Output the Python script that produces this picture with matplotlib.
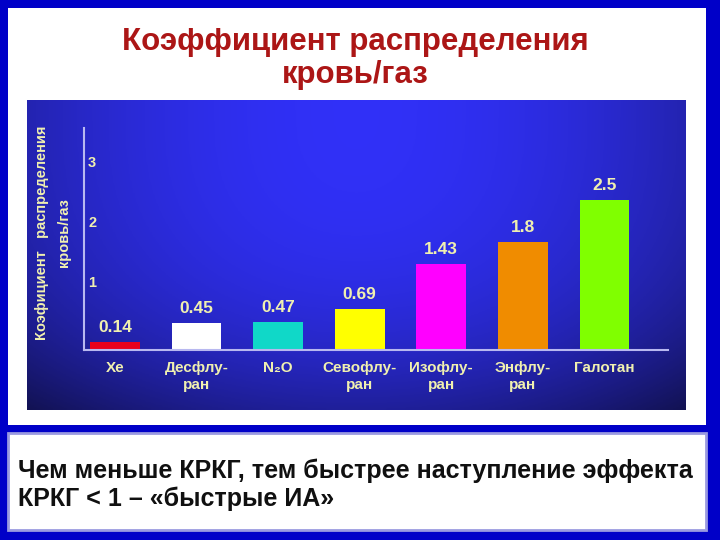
import numpy as np
import matplotlib.pyplot as plt
from matplotlib.patches import Rectangle

# data
drugs = ["Xe", "Десфлу-\nран", "N₂O", "Севофлу-\nран", "Изофлу-\nран", "Энфлу-\nран", "Галотан"]
values = [0.14, 0.45, 0.47, 0.69, 1.43, 1.8, 2.5]
value_labels = ["0.14", "0.45", "0.47", "0.69", "1.43", "1.8", "2.5"]
bar_colors = ["#e8001c", "#ffffff", "#10d8c8", "#ffff00", "#ff00ff", "#f08c00", "#80ff00"]
y_ticks = [1, 2, 3]

W, H = 720, 540


def box(x0, y0, x1, y1):
    # pixel box (top-left origin) -> figure coords
    return [x0 / W, 1 - y1 / H, (x1 - x0) / W, (y1 - y0) / H]


plt.rcParams['font.family'] = ['Liberation Sans', 'DejaVu Sans']

fig = plt.figure(figsize=(7.2, 5.4), dpi=100)
fig.patch.set_facecolor('#0000c8')

# white slide panel
fig.add_artist(Rectangle((8 / W, 1 - 425 / H), 698 / W, 417 / H, zorder=-5,
                         transform=fig.transFigure, facecolor='white', edgecolor='none'))

fig.text(355 / W, 1 - 42 / H, "Коэффициент распределения", ha='center', va='center',
         fontsize=22.5, fontweight='bold', color='#ac1616')
fig.text(355 / W, 1 - 75 / H, "кровь/газ", ha='center', va='center',
         fontsize=22.5, fontweight='bold', color='#ac1616')

# gradient chart background
bg = fig.add_axes(box(27, 100, 686, 410))
gx = np.linspace(-1, 1, 200)
gy = np.linspace(0, 1, 120)
X, Y = np.meshgrid(gx, gy)
shade = 1 - 0.3 * X ** 2 - 0.4 * Y ** 3
r = 0.17 * shade + 0.02
g = 0.17 * shade + 0.02
b = 0.92 * shade + 0.05
bg.imshow(np.dstack([r, g, b]).clip(0, 1), aspect='auto', extent=[0, 1, 1, 0])
bg.axis('off')

# bars
ax = fig.add_axes(box(84, 128, 668, 350))
ax.set_facecolor('none')
pos = np.arange(len(drugs))
bars = ax.bar(pos, values, width=0.61, color=bar_colors)
for rect, lab in zip(bars, value_labels):
    ax.annotate(lab, (rect.get_x() + rect.get_width() / 2, rect.get_height()),
                xytext=(0, 5), textcoords='offset points', ha='center', va='bottom',
                fontsize=12.5, fontweight='bold', color='#f0f0b0')

ax.set_xlim(-0.38, 6.78)
ax.set_ylim(0, 3.7)
ax.set_xticks(pos)
ax.set_xticklabels(drugs, fontsize=11, fontweight='bold', color='#f0f0b0', linespacing=1.25)
ax.set_yticks(y_ticks)
ax.set_yticklabels([str(t) for t in y_ticks], fontsize=10.5, fontweight='bold', color='#f0f0b0')
for lbl in ax.get_yticklabels():
    lbl.set_ha('left')
    lbl.set_va('bottom')
ax.tick_params(axis='x', length=0, pad=8)
ax.tick_params(axis='y', length=0, pad=-3)
for side in ['top', 'right']:
    ax.spines[side].set_visible(False)
for side in ['left', 'bottom']:
    ax.spines[side].set_color('#b8b8f0')
    ax.spines[side].set_linewidth(1.5)

fig.text(42 / W, 1 - 233 / H, "Коэфициент   распределения", rotation=90, ha='center', va='center',
         fontsize=10.5, fontweight='bold', color='#f0f0b0')
fig.text(64 / W, 1 - 233 / H, "кровь/газ", rotation=90, ha='center', va='center',
         fontsize=10.5, fontweight='bold', color='#f0f0b0')

# bottom note
fig.add_artist(Rectangle((8 / W, 1 - 530 / H), 698 / W, 97 / H, zorder=-5,
                         transform=fig.transFigure, facecolor='white',
                         edgecolor='#9a9ae0', linewidth=2))
fig.text(18 / W, 1 - 471 / H, "Чем меньше КРКГ, тем быстрее наступление эффекта",
         ha='left', va='center', fontsize=18, fontweight='bold', color='#101010')
fig.text(18 / W, 1 - 499 / H, "КРКГ < 1 – «быстрые ИА»",
         ha='left', va='center', fontsize=18, fontweight='bold', color='#101010')

fig.savefig('out.png', dpi=100, facecolor=fig.get_facecolor())
